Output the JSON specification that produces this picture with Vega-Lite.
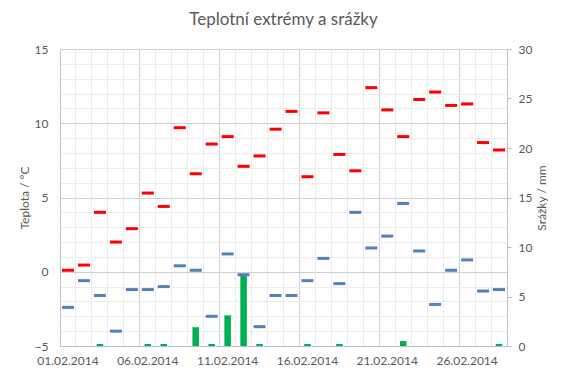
{
  "$schema": "https://vega.github.io/schema/vega-lite/v6.json",
  "width": 447,
  "height": 297,
  "autosize": "none",
  "padding": {"left": 60, "top": 49, "right": 60, "bottom": 32},
  "background": "white",
  "title": {"text": "Teplotní extrémy a srážky", "font": "Lato", "fontSize": 17, "fontWeight": "normal", "color": "#595959", "offset": 14},
  "config": {
    "view": {"stroke": null},
    "axis": {"labelFont": "Lato", "titleFont": "Lato", "labelColor": "#595959", "titleColor": "#595959", "titleFontWeight": "normal", "labelFontSize": 12, "titleFontSize": 12}
  },
  "data": {"values": [
    {"datum": "01.02.2014", "max": 0.1, "min": -2.4, "srazky": 0},
    {"datum": "02.02.2014", "max": 0.45, "min": -0.6, "srazky": 0},
    {"datum": "03.02.2014", "max": 4.0, "min": -1.6, "srazky": 0.2},
    {"datum": "04.02.2014", "max": 2.0, "min": -4.0, "srazky": 0},
    {"datum": "05.02.2014", "max": 2.9, "min": -1.2, "srazky": 0},
    {"datum": "06.02.2014", "max": 5.3, "min": -1.2, "srazky": 0.2},
    {"datum": "07.02.2014", "max": 4.4, "min": -1.0, "srazky": 0.2},
    {"datum": "08.02.2014", "max": 9.7, "min": 0.4, "srazky": 0},
    {"datum": "09.02.2014", "max": 6.6, "min": 0.1, "srazky": 1.9},
    {"datum": "10.02.2014", "max": 8.6, "min": -3.0, "srazky": 0.2},
    {"datum": "11.02.2014", "max": 9.1, "min": 1.2, "srazky": 3.1},
    {"datum": "12.02.2014", "max": 7.1, "min": -0.2, "srazky": 7.3},
    {"datum": "13.02.2014", "max": 7.8, "min": -3.7, "srazky": 0.2},
    {"datum": "14.02.2014", "max": 9.6, "min": -1.6, "srazky": 0},
    {"datum": "15.02.2014", "max": 10.8, "min": -1.6, "srazky": 0},
    {"datum": "16.02.2014", "max": 6.4, "min": -0.6, "srazky": 0.2},
    {"datum": "17.02.2014", "max": 10.7, "min": 0.9, "srazky": 0},
    {"datum": "18.02.2014", "max": 7.9, "min": -0.8, "srazky": 0.2},
    {"datum": "19.02.2014", "max": 6.8, "min": 4.0, "srazky": 0},
    {"datum": "20.02.2014", "max": 12.4, "min": 1.6, "srazky": 0},
    {"datum": "21.02.2014", "max": 10.9, "min": 2.4, "srazky": 0},
    {"datum": "22.02.2014", "max": 9.1, "min": 4.6, "srazky": 0.5},
    {"datum": "23.02.2014", "max": 11.6, "min": 1.4, "srazky": 0},
    {"datum": "24.02.2014", "max": 12.1, "min": -2.2, "srazky": 0},
    {"datum": "25.02.2014", "max": 11.2, "min": 0.1, "srazky": 0},
    {"datum": "26.02.2014", "max": 11.3, "min": 0.8, "srazky": 0},
    {"datum": "27.02.2014", "max": 8.7, "min": -1.3, "srazky": 0},
    {"datum": "28.02.2014", "max": 8.2, "min": -1.2, "srazky": 0.2}
  ]},
  "layer": [
    {
      "mark": {"type": "bar", "color": "#00b050", "opacity": 1, "width": {"band": 0.41}},
      "encoding": {
        "x": {"field": "datum", "type": "ordinal", "sort": null, "scale": {"paddingInner": 0, "paddingOuter": 0},
          "axis": {"title": null, "bandPosition": 0, "ticks": false, "labelAngle": 0, "labelPadding": 9, "domainColor": "#bfbfbf", "grid": true,
            "gridColor": {"condition": {"test": "indexof(['01.02.2014','06.02.2014','11.02.2014','16.02.2014','21.02.2014','26.02.2014'], datum.value) >= 0", "value": "#d0d0d0"}, "value": "#ececec"},
            "labelExpr": "indexof(['01.02.2014','06.02.2014','11.02.2014','16.02.2014','21.02.2014','26.02.2014'], datum.value) >= 0 ? datum.value : ''"}},
        "y": {"field": "srazky", "type": "quantitative", "scale": {"domain": [0, 30]},
          "axis": {"orient": "right", "title": "Srážky / mm", "titleAngle": -90, "titlePadding": 17, "values": [0, 5, 10, 15, 20, 25, 30], "grid": false, "tickColor": "#bfbfbf", "tickSize": 4, "labelPadding": 7, "domainColor": "#bfbfbf"}}
      }
    },
    {
      "layer": [
        {
          "mark": {"type": "tick", "color": "#ff0000", "opacity": 1, "thickness": 3, "size": 12, "orient": "horizontal"},
          "encoding": {
            "x": {"field": "datum", "type": "ordinal", "sort": null, "bandPosition": 0},
            "y": {"field": "max", "type": "quantitative", "scale": {"domain": [-5, 15], "nice": false},
              "axis": {"orient": "left", "title": "Teplota / °C", "titlePadding": 3, "values": [-5,-4,-3,-2,-1,0,1,2,3,4,5,6,7,8,9,10,11,12,13,14,15], "ticks": false, "labelPadding": 12, "domainColor": "#bfbfbf", "grid": true,
                "gridColor": {"condition": {"test": "datum.value % 5 === 0", "value": "#d0d0d0"}, "value": "#ececec"},
                "labelExpr": "datum.value % 5 === 0 ? datum.label : ''"}}
          }
        },
        {
          "mark": {"type": "tick", "color": "#4f81bd", "opacity": 1, "thickness": 3, "size": 12, "orient": "horizontal"},
          "encoding": {
            "x": {"field": "datum", "type": "ordinal", "sort": null, "bandPosition": 0},
            "y": {"field": "min", "type": "quantitative", "scale": {"domain": [-5, 15], "nice": false},
              "axis": {"orient": "left", "title": "Teplota / °C", "titlePadding": 3, "values": [-5,-4,-3,-2,-1,0,1,2,3,4,5,6,7,8,9,10,11,12,13,14,15], "ticks": false, "labelPadding": 12, "domainColor": "#bfbfbf", "grid": true,
                "gridColor": {"condition": {"test": "datum.value % 5 === 0", "value": "#d0d0d0"}, "value": "#ececec"},
                "labelExpr": "datum.value % 5 === 0 ? datum.label : ''"}}
          }
        }
      ]
    }
  ],
  "resolve": {"scale": {"y": "independent"}}
}
